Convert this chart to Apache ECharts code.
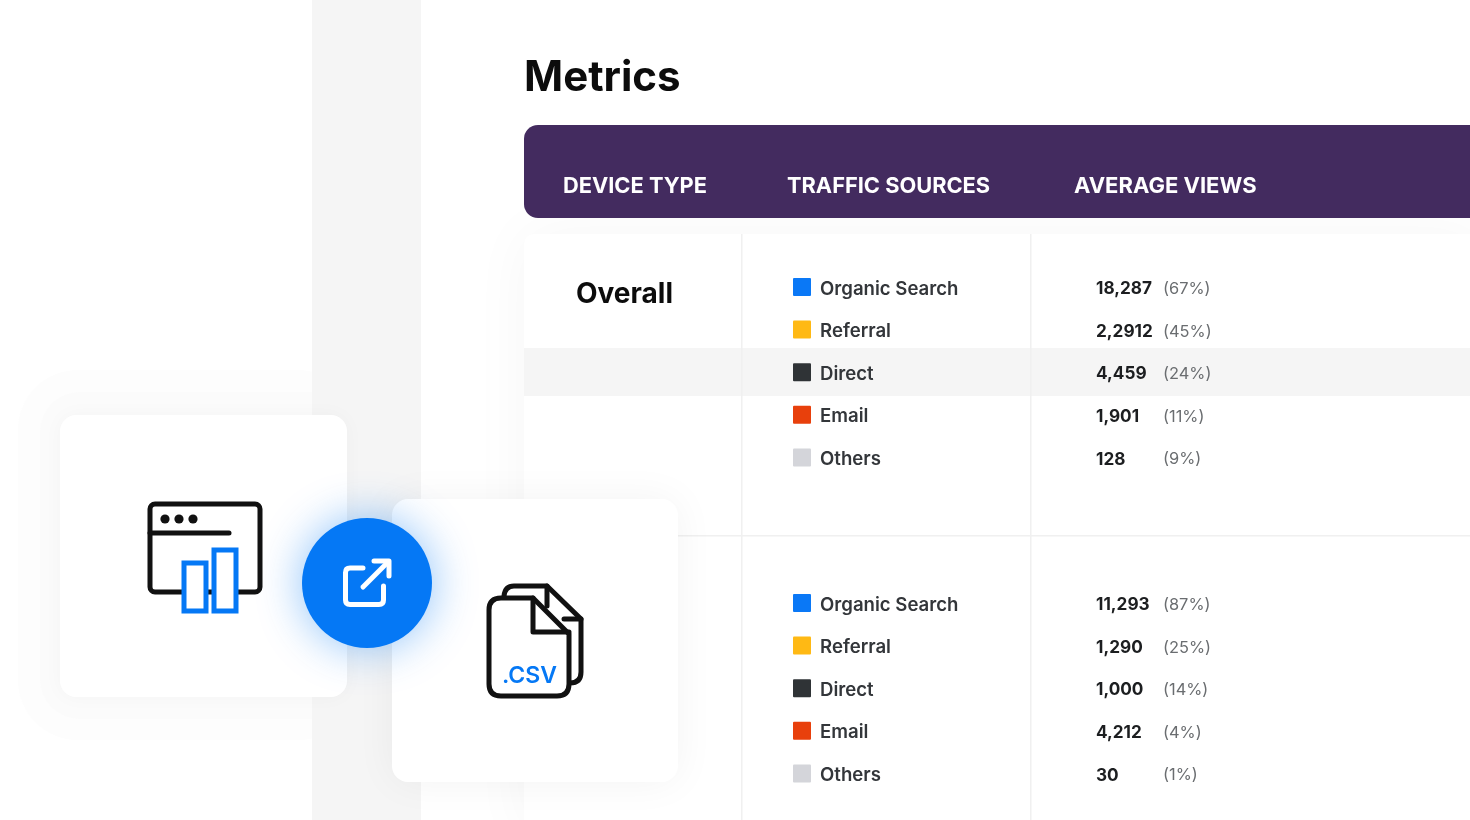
<!DOCTYPE html>
<html lang="en">
<head>
    <meta charset="UTF-8">
    <title>Metrics</title>
    <script src="https://cdn.jsdelivr.net/npm/echarts@6/dist/echarts.min.js"></script>
    <style>
        html, body { margin: 0; padding: 0; background: #fff; overflow: hidden; }
        #chart { width: 1470px; height: 820px; }
    </style>
</head>
<body>
    <div id="chart"></div>
    <script>
        const FONT = 'Inter, "Noto Sans", sans-serif';
        const BLUE = '#0578f5';
        const INK = '#111111';
        const colors = { 'Organic Search': '#0a78f6', 'Referral': '#ffb914', 'Direct': '#2f3336', 'Email': '#e8400c', 'Others': '#d4d5da' };

        // table rows, values are kept as printed in the picture
        const sections = [
            { top: 288, rows: [
                ['Organic Search', '18,287', '(67%)'],
                ['Referral', '2,2912', '(45%)'],
                ['Direct', '4,459', '(24%)'],
                ['Email', '1,901', '(11%)'],
                ['Others', '128', '(9%)']
            ]},
            { top: 604, rows: [
                ['Organic Search', '11,293', '(87%)'],
                ['Referral', '1,290', '(25%)'],
                ['Direct', '1,000', '(14%)'],
                ['Email', '4,212', '(4%)'],
                ['Others', '30', '(1%)']
            ]}
        ];
        const ROW_H = 42.6;
        const rows = [];
        sections.forEach(s => s.rows.forEach((r, i) => {
            rows.push({ y: s.top + i * ROW_H, name: r[0], views: r[1], pct: r[2] });
        }));

        function text(x, y, str, size, weight, fill, extra) {
            return { type: 'text', x: x, y: y, style: Object.assign({ text: str, font: weight + ' ' + size + 'px ' + FONT, fill: fill, verticalAlign: 'middle' }, extra || {}) };
        }
        function rect(x, y, w, h, r, fill, extra) {
            return { type: 'rect', shape: { x: x, y: y, width: w, height: h, r: r }, style: Object.assign({ fill: fill }, extra || {}) };
        }
        function stroke(points, color, width) {
            return { type: 'polyline', shape: { points: points }, style: { fill: null, stroke: color, lineWidth: width, lineJoin: 'round', lineCap: 'round' } };
        }
        function path(d, fill, color, width) {
            return { type: 'path', shape: { pathData: d }, style: { fill: fill, stroke: color, lineWidth: width, lineJoin: 'round', lineCap: 'round' } };
        }

        const background = [
            // halos behind the left card
            rect(18, 370, 340, 370, 60, '#fdfdfd'),
            rect(40, 392, 320, 327, 40, '#fbfbfb'),
            rect(312, 0, 109, 820, 0, '#f5f5f5'),
            // table
            rect(524, 234, 960, 600, 10, '#fff', { shadowBlur: 60, shadowColor: 'rgba(0,0,0,0.04)' }),
            rect(524, 348, 946, 48, 0, '#f5f5f5'),
            rect(741, 234, 1.5, 586, 0, '#f0f0f0'),
            rect(1030, 234, 1.5, 586, 0, '#f0f0f0'),
            rect(524, 535, 946, 1.5, 0, '#f0f0f0'),
            rect(524, 125, 960, 93, 14, '#432b5f'),
            text(524, 78, 'Metrics', 42, 700, '#0c0c0c'),
            text(563, 186, 'DEVICE TYPE', 21.8, 700, '#fff'),
            text(787, 186, 'TRAFFIC SOURCES', 21.8, 700, '#fff'),
            text(1074, 186, 'AVERAGE VIEWS', 22, 700, '#fff'),
            text(576, 295, 'Overall', 28, 700, '#0c0c0c'),
            // cards
            rect(60, 415, 287, 282, 16, '#fff', { shadowBlur: 20, shadowColor: 'rgba(0,0,0,0.03)' }),
            rect(392, 499, 286, 283, 16, '#fff', { shadowBlur: 40, shadowColor: 'rgba(0,0,0,0.05)' }),
            { type: 'circle', shape: { cx: 367, cy: 583, r: 65 }, style: { fill: BLUE, shadowBlur: 45, shadowColor: 'rgba(5,120,245,0.45)' } }
        ];

        // icons are drawn in a custom series because graphic has no path element
        const icons = [
            rect(150, 504, 110, 88, 5, '#fff', { stroke: INK, lineWidth: 5 }),
            { type: 'circle', shape: { cx: 165, cy: 519, r: 4.6 }, style: { fill: INK } },
            { type: 'circle', shape: { cx: 179, cy: 519, r: 4.6 }, style: { fill: INK } },
            { type: 'circle', shape: { cx: 193, cy: 519, r: 4.6 }, style: { fill: INK } },
            stroke([[150, 533], [229, 533]], INK, 5),
            rect(184, 563, 22, 48, 0, '#fff', { stroke: BLUE, lineWidth: 5 }),
            rect(214, 550, 22, 61, 0, '#fff', { stroke: BLUE, lineWidth: 5 }),
            path('M504 596 Q505 586 514 586 L547 586 L581 619 L581 672 Q581 683 570 683 L560 683 Z', '#fff', INK, 5),
            stroke([[547, 586], [547, 606]], INK, 5),
            stroke([[564, 619], [581, 619]], INK, 5),
            path('M489 610 Q489 598 501 598 L533 598 L569 634 L569 684 Q569 696 557 696 L501 696 Q489 696 489 684 Z', '#fff', INK, 5),
            stroke([[533, 598], [533, 632], [569, 632]], INK, 5),
            text(502, 676, '.CSV', 23, 600, BLUE),
            path('M363 568 L350 568 Q345.5 568 345.5 572.5 L345.5 600 Q345.5 604.5 350 604.5 L379 604.5 Q383.5 604.5 383.5 600 L383.5 586', 'none', '#fff', 5),
            stroke([[363, 587], [388, 562]], '#fff', 5),
            stroke([[374, 561], [389, 561], [389, 576]], '#fff', 5)
        ];

        const chart = echarts.init(document.getElementById('chart'), null, { renderer: 'canvas' });
        chart.setOption({
            animation: false,
            backgroundColor: '#fff',
            tooltip: { show: false },
            graphic: { elements: background.map(el => Object.assign({ silent: true, z: 0 }, el)) },
            grid: { left: 0, right: 0, top: 0, bottom: 0 },
            xAxis: { type: 'value', min: 0, max: 1470, show: false },
            yAxis: { type: 'value', min: 0, max: 820, inverse: true, show: false },
            series: [{
                type: 'custom',
                clip: false,
                silent: true,
                z: 4,
                data: [[0, 0]],
                renderItem: function () {
                    return { type: 'group', children: icons };
                }
            }, {
                type: 'custom',
                clip: false,
                silent: true,
                z: 5,
                data: rows.map(r => [802, r.y]),
                renderItem: function (params, api) {
                    const r = rows[params.dataIndex];
                    const p = api.coord([api.value(0), api.value(1)]);
                    return { type: 'group', children: [
                        rect(p[0] - 9, p[1] - 10, 18, 18, 1, colors[r.name]),
                        text(p[0] + 18, p[1] + 1, r.name, 18.6, 600, '#33363a'),
                        text(p[0] + 294, p[1] + 1, r.views, 17.2, 700, '#1c1e20'),
                        text(p[0] + 361, p[1] + 1, r.pct, 16.4, 400, '#6a6d70')
                    ]};
                }
            }]
        });
    </script>
</body>
</html>
